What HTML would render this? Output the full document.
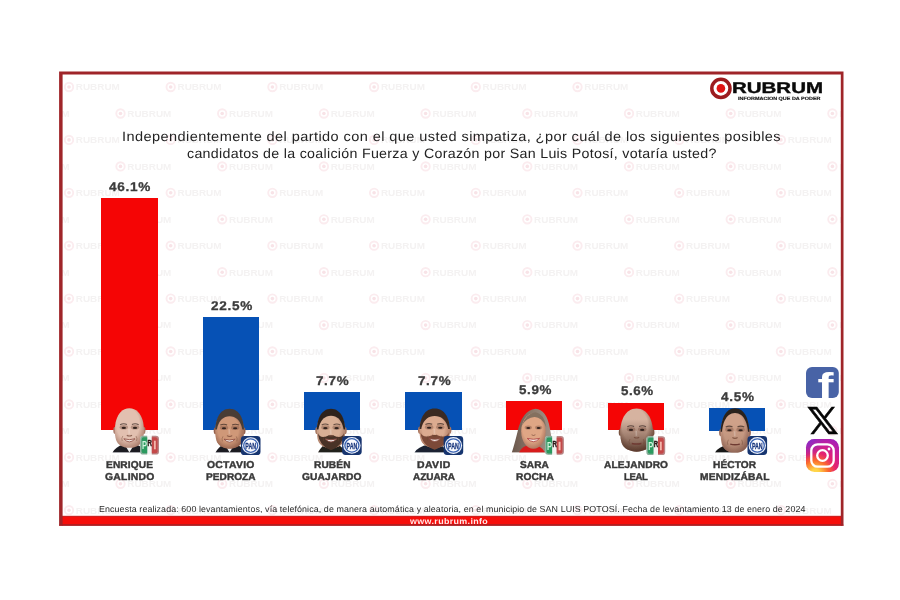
<!DOCTYPE html>
<html lang="es">
<head>
<meta charset="utf-8">
<title>RUBRUM - Encuesta San Luis Potosí</title>
<style>
*{margin:0;padding:0;box-sizing:border-box}
html,body{width:900px;height:600px;background:#fff;overflow:hidden}
body{position:relative;font-family:"Liberation Sans",sans-serif;color:#262626}
.t{position:absolute;white-space:nowrap;line-height:1;transform-origin:0 0;text-rendering:geometricPrecision}
.title{font-size:13.6px;color:#232323}
.bar{position:absolute}
.red{background:#f50505}
.blue{background:#0651b5}
.pct{font-weight:bold;font-size:12.6px;color:#3c3c3c;-webkit-text-stroke:0.3px #3c3c3c}
.nm{font-weight:bold;font-size:10px;color:#383838;-webkit-text-stroke:0.42px #383838}
.foot{font-size:8.7px;color:#2a2a2a}
.abs{position:absolute}
</style>
</head>
<body>
<svg id="wm" class="abs" style="left:62px;top:75px" width="779" height="441" viewBox="61.5 74 779 441">
<defs>
<filter id="wb" x="-10%" y="-30%" width="120%" height="160%"><feGaussianBlur stdDeviation="0.6"/></filter>
<g id="w" filter="url(#wb)">
<circle cx="0" cy="0" r="4.2" fill="none" stroke="#fbecef" stroke-width="1.9"/>
<circle cx="0" cy="0" r="1.8" fill="#f8e3e7"/>
<text x="6.8" y="3.3" font-family="Liberation Sans, sans-serif" font-weight="bold" font-size="9.5" fill="#f4f2f2" textLength="44" lengthAdjust="spacingAndGlyphs">RUBRUM</text>
</g>
</defs>
<use href="#w" x="-33.2" y="86.0"/>
<use href="#w" x="18.3" y="112.5"/>
<use href="#w" x="68.5" y="86.0"/>
<use href="#w" x="120.0" y="112.5"/>
<use href="#w" x="170.2" y="86.0"/>
<use href="#w" x="221.7" y="112.5"/>
<use href="#w" x="271.9" y="86.0"/>
<use href="#w" x="323.4" y="112.5"/>
<use href="#w" x="373.6" y="86.0"/>
<use href="#w" x="425.1" y="112.5"/>
<use href="#w" x="475.3" y="86.0"/>
<use href="#w" x="526.8" y="112.5"/>
<use href="#w" x="577.0" y="86.0"/>
<use href="#w" x="628.5" y="112.5"/>
<use href="#w" x="678.7" y="86.0"/>
<use href="#w" x="730.2" y="112.5"/>
<use href="#w" x="780.4" y="86.0"/>
<use href="#w" x="831.9" y="112.5"/>
<use href="#w" x="882.1" y="86.0"/>
<use href="#w" x="933.6" y="112.5"/>
<use href="#w" x="-33.2" y="138.9"/>
<use href="#w" x="18.3" y="165.4"/>
<use href="#w" x="68.5" y="138.9"/>
<use href="#w" x="120.0" y="165.4"/>
<use href="#w" x="170.2" y="138.9"/>
<use href="#w" x="221.7" y="165.4"/>
<use href="#w" x="271.9" y="138.9"/>
<use href="#w" x="323.4" y="165.4"/>
<use href="#w" x="373.6" y="138.9"/>
<use href="#w" x="425.1" y="165.4"/>
<use href="#w" x="475.3" y="138.9"/>
<use href="#w" x="526.8" y="165.4"/>
<use href="#w" x="577.0" y="138.9"/>
<use href="#w" x="628.5" y="165.4"/>
<use href="#w" x="678.7" y="138.9"/>
<use href="#w" x="730.2" y="165.4"/>
<use href="#w" x="780.4" y="138.9"/>
<use href="#w" x="831.9" y="165.4"/>
<use href="#w" x="882.1" y="138.9"/>
<use href="#w" x="933.6" y="165.4"/>
<use href="#w" x="-33.2" y="191.8"/>
<use href="#w" x="18.3" y="218.3"/>
<use href="#w" x="68.5" y="191.8"/>
<use href="#w" x="120.0" y="218.3"/>
<use href="#w" x="170.2" y="191.8"/>
<use href="#w" x="221.7" y="218.3"/>
<use href="#w" x="271.9" y="191.8"/>
<use href="#w" x="323.4" y="218.3"/>
<use href="#w" x="373.6" y="191.8"/>
<use href="#w" x="425.1" y="218.3"/>
<use href="#w" x="475.3" y="191.8"/>
<use href="#w" x="526.8" y="218.3"/>
<use href="#w" x="577.0" y="191.8"/>
<use href="#w" x="628.5" y="218.3"/>
<use href="#w" x="678.7" y="191.8"/>
<use href="#w" x="730.2" y="218.3"/>
<use href="#w" x="780.4" y="191.8"/>
<use href="#w" x="831.9" y="218.3"/>
<use href="#w" x="882.1" y="191.8"/>
<use href="#w" x="933.6" y="218.3"/>
<use href="#w" x="-33.2" y="244.7"/>
<use href="#w" x="18.3" y="271.2"/>
<use href="#w" x="68.5" y="244.7"/>
<use href="#w" x="120.0" y="271.2"/>
<use href="#w" x="170.2" y="244.7"/>
<use href="#w" x="221.7" y="271.2"/>
<use href="#w" x="271.9" y="244.7"/>
<use href="#w" x="323.4" y="271.2"/>
<use href="#w" x="373.6" y="244.7"/>
<use href="#w" x="425.1" y="271.2"/>
<use href="#w" x="475.3" y="244.7"/>
<use href="#w" x="526.8" y="271.2"/>
<use href="#w" x="577.0" y="244.7"/>
<use href="#w" x="628.5" y="271.2"/>
<use href="#w" x="678.7" y="244.7"/>
<use href="#w" x="730.2" y="271.2"/>
<use href="#w" x="780.4" y="244.7"/>
<use href="#w" x="831.9" y="271.2"/>
<use href="#w" x="882.1" y="244.7"/>
<use href="#w" x="933.6" y="271.2"/>
<use href="#w" x="-33.2" y="297.6"/>
<use href="#w" x="18.3" y="324.1"/>
<use href="#w" x="68.5" y="297.6"/>
<use href="#w" x="120.0" y="324.1"/>
<use href="#w" x="170.2" y="297.6"/>
<use href="#w" x="221.7" y="324.1"/>
<use href="#w" x="271.9" y="297.6"/>
<use href="#w" x="323.4" y="324.1"/>
<use href="#w" x="373.6" y="297.6"/>
<use href="#w" x="425.1" y="324.1"/>
<use href="#w" x="475.3" y="297.6"/>
<use href="#w" x="526.8" y="324.1"/>
<use href="#w" x="577.0" y="297.6"/>
<use href="#w" x="628.5" y="324.1"/>
<use href="#w" x="678.7" y="297.6"/>
<use href="#w" x="730.2" y="324.1"/>
<use href="#w" x="780.4" y="297.6"/>
<use href="#w" x="831.9" y="324.1"/>
<use href="#w" x="882.1" y="297.6"/>
<use href="#w" x="933.6" y="324.1"/>
<use href="#w" x="-33.2" y="350.5"/>
<use href="#w" x="18.3" y="377.0"/>
<use href="#w" x="68.5" y="350.5"/>
<use href="#w" x="120.0" y="377.0"/>
<use href="#w" x="170.2" y="350.5"/>
<use href="#w" x="221.7" y="377.0"/>
<use href="#w" x="271.9" y="350.5"/>
<use href="#w" x="323.4" y="377.0"/>
<use href="#w" x="373.6" y="350.5"/>
<use href="#w" x="425.1" y="377.0"/>
<use href="#w" x="475.3" y="350.5"/>
<use href="#w" x="526.8" y="377.0"/>
<use href="#w" x="577.0" y="350.5"/>
<use href="#w" x="628.5" y="377.0"/>
<use href="#w" x="678.7" y="350.5"/>
<use href="#w" x="730.2" y="377.0"/>
<use href="#w" x="780.4" y="350.5"/>
<use href="#w" x="831.9" y="377.0"/>
<use href="#w" x="882.1" y="350.5"/>
<use href="#w" x="933.6" y="377.0"/>
<use href="#w" x="-33.2" y="403.4"/>
<use href="#w" x="18.3" y="429.9"/>
<use href="#w" x="68.5" y="403.4"/>
<use href="#w" x="120.0" y="429.9"/>
<use href="#w" x="170.2" y="403.4"/>
<use href="#w" x="221.7" y="429.9"/>
<use href="#w" x="271.9" y="403.4"/>
<use href="#w" x="323.4" y="429.9"/>
<use href="#w" x="373.6" y="403.4"/>
<use href="#w" x="425.1" y="429.9"/>
<use href="#w" x="475.3" y="403.4"/>
<use href="#w" x="526.8" y="429.9"/>
<use href="#w" x="577.0" y="403.4"/>
<use href="#w" x="628.5" y="429.9"/>
<use href="#w" x="678.7" y="403.4"/>
<use href="#w" x="730.2" y="429.9"/>
<use href="#w" x="780.4" y="403.4"/>
<use href="#w" x="831.9" y="429.9"/>
<use href="#w" x="882.1" y="403.4"/>
<use href="#w" x="933.6" y="429.9"/>
<use href="#w" x="-33.2" y="456.3"/>
<use href="#w" x="18.3" y="482.8"/>
<use href="#w" x="68.5" y="456.3"/>
<use href="#w" x="120.0" y="482.8"/>
<use href="#w" x="170.2" y="456.3"/>
<use href="#w" x="221.7" y="482.8"/>
<use href="#w" x="271.9" y="456.3"/>
<use href="#w" x="323.4" y="482.8"/>
<use href="#w" x="373.6" y="456.3"/>
<use href="#w" x="425.1" y="482.8"/>
<use href="#w" x="475.3" y="456.3"/>
<use href="#w" x="526.8" y="482.8"/>
<use href="#w" x="577.0" y="456.3"/>
<use href="#w" x="628.5" y="482.8"/>
<use href="#w" x="678.7" y="456.3"/>
<use href="#w" x="730.2" y="482.8"/>
<use href="#w" x="780.4" y="456.3"/>
<use href="#w" x="831.9" y="482.8"/>
<use href="#w" x="882.1" y="456.3"/>
<use href="#w" x="933.6" y="482.8"/>
<use href="#w" x="-33.2" y="509.2"/>
<use href="#w" x="18.3" y="535.7"/>
<use href="#w" x="68.5" y="509.2"/>
<use href="#w" x="120.0" y="535.7"/>
<use href="#w" x="170.2" y="509.2"/>
<use href="#w" x="221.7" y="535.7"/>
<use href="#w" x="271.9" y="509.2"/>
<use href="#w" x="323.4" y="535.7"/>
<use href="#w" x="373.6" y="509.2"/>
<use href="#w" x="425.1" y="535.7"/>
<use href="#w" x="475.3" y="509.2"/>
<use href="#w" x="526.8" y="535.7"/>
<use href="#w" x="577.0" y="509.2"/>
<use href="#w" x="628.5" y="535.7"/>
<use href="#w" x="678.7" y="509.2"/>
<use href="#w" x="730.2" y="535.7"/>
<use href="#w" x="780.4" y="509.2"/>
<use href="#w" x="831.9" y="535.7"/>
<use href="#w" x="882.1" y="509.2"/>
<use href="#w" x="933.6" y="535.7"/>
<use href="#w" x="-33.2" y="562.1"/>
<use href="#w" x="18.3" y="588.6"/>
<use href="#w" x="68.5" y="562.1"/>
<use href="#w" x="120.0" y="588.6"/>
<use href="#w" x="170.2" y="562.1"/>
<use href="#w" x="221.7" y="588.6"/>
<use href="#w" x="271.9" y="562.1"/>
<use href="#w" x="323.4" y="588.6"/>
<use href="#w" x="373.6" y="562.1"/>
<use href="#w" x="425.1" y="588.6"/>
<use href="#w" x="475.3" y="562.1"/>
<use href="#w" x="526.8" y="588.6"/>
<use href="#w" x="577.0" y="562.1"/>
<use href="#w" x="628.5" y="588.6"/>
<use href="#w" x="678.7" y="562.1"/>
<use href="#w" x="730.2" y="588.6"/>
<use href="#w" x="780.4" y="562.1"/>
<use href="#w" x="831.9" y="588.6"/>
<use href="#w" x="882.1" y="562.1"/>
<use href="#w" x="933.6" y="588.6"/>
</svg>
<svg id="frame" class="abs" style="left:0;top:0" width="900" height="600" viewBox="0 0 900 600">
<rect x="62" y="515.9" width="780" height="9" fill="#f60e0a"/>
<rect x="62" y="515.9" width="780" height="1.1" fill="#cf1f1f"/>
<rect x="62" y="524.2" width="780" height="1.5" fill="#b21a1c"/>
<path fill="#9f2529" fill-rule="evenodd" d="M59.1 71.6H843.5V525.7H59.1Z M62.6 74.4H840.8V525.7H62.6Z"/>
<rect x="59.1" y="524.6" width="784.4" height="1.1" fill="#a82024"/>
</svg>

<!-- logo -->
<div class="abs" style="left:660px;top:74.6px;width:178px;height:29.4px;background:#fff"></div>
<svg class="abs" style="left:708px;top:76px" width="26" height="26" viewBox="0 0 26 26">
<circle cx="12.9" cy="12.4" r="9.1" fill="#fff" stroke="#9c1c1f" stroke-width="3.5"/>
<circle cx="12.9" cy="12.4" r="4.3" fill="#e01414"/>
</svg>

<!-- bars -->
<div class="bar red"  style="left:101px;top:198px;width:57px;height:232px"></div>
<div class="bar blue" style="left:203px;top:317px;width:56px;height:113px"></div>
<div class="bar blue" style="left:304px;top:392px;width:56px;height:38px"></div>
<div class="bar blue" style="left:405px;top:392px;width:56.5px;height:38px"></div>
<div class="bar red"  style="left:506px;top:401px;width:56px;height:29px"></div>
<div class="bar red"  style="left:607.5px;top:403px;width:56.5px;height:27px"></div>
<div class="bar blue" style="left:709px;top:408px;width:56px;height:22.5px"></div>

<svg class="abs" style="left:0;top:0" width="900" height="600" viewBox="0 0 900 600">
<defs><radialGradient id="s1" cx="0.45" cy="0.4" r="0.65"><stop offset="0" stop-color="#e2c0b0"/><stop offset="0.6" stop-color="#e2c0b0"/><stop offset="1" stop-color="#a97b6a"/></radialGradient>
<radialGradient id="s2" cx="0.45" cy="0.4" r="0.65"><stop offset="0" stop-color="#cf9878"/><stop offset="0.6" stop-color="#cf9878"/><stop offset="1" stop-color="#94614c"/></radialGradient>
<clipPath id="hc2"><rect x="199.6" y="406.8" width="60" height="22.75"/></clipPath>
<radialGradient id="s3" cx="0.45" cy="0.4" r="0.65"><stop offset="0" stop-color="#d9af95"/><stop offset="0.6" stop-color="#d9af95"/><stop offset="1" stop-color="#a57660"/></radialGradient>
<clipPath id="hc3"><rect x="301" y="406.8" width="60" height="22.60"/></clipPath>
<radialGradient id="s4" cx="0.45" cy="0.4" r="0.65"><stop offset="0" stop-color="#dcab90"/><stop offset="0.6" stop-color="#dcab90"/><stop offset="1" stop-color="#a8735c"/></radialGradient>
<clipPath id="hc4"><rect x="404.7" y="406.5" width="60" height="22.50"/></clipPath>
<radialGradient id="s6" cx="0.45" cy="0.4" r="0.65"><stop offset="0" stop-color="#d6b3a0"/><stop offset="0.6" stop-color="#d6b3a0"/><stop offset="1" stop-color="#7a5443"/></radialGradient>
<radialGradient id="s7" cx="0.45" cy="0.4" r="0.65"><stop offset="0" stop-color="#cfa189"/><stop offset="0.6" stop-color="#cfa189"/><stop offset="1" stop-color="#96695a"/></radialGradient>
<clipPath id="hc7"><rect x="705" y="406.3" width="60" height="25.35"/></clipPath>
<radialGradient id="s5" cx="0.45" cy="0.4" r="0.65"><stop offset="0" stop-color="#dfa685"/><stop offset="0.6" stop-color="#dfa685"/><stop offset="1" stop-color="#a8705a"/></radialGradient>
<linearGradient id="h5" x1="0" y1="0" x2="1" y2="0"><stop offset="0" stop-color="#6a574c"/><stop offset="0.45" stop-color="#8b7768"/><stop offset="1" stop-color="#a3958b"/></linearGradient>
<clipPath id="fc"><rect x="0" y="400" width="900" height="52.7"/></clipPath><linearGradient id="lowg" x1="0" y1="0" x2="0" y2="1"><stop offset="0.25" stop-color="#4a2c20" stop-opacity="0"/><stop offset="1" stop-color="#4a2c20" stop-opacity="1"/></linearGradient>
<filter id="bl" x="-10%" y="-10%" width="120%" height="120%"><feGaussianBlur stdDeviation="0.55"/></filter>
<filter id="bl2" x="-10%" y="-10%" width="120%" height="120%"><feGaussianBlur stdDeviation="0.3"/></filter>
<radialGradient id="igg" cx="0.28" cy="1.05" r="1.15"><stop offset="0" stop-color="#ffdc55"/><stop offset="0.12" stop-color="#ffd145"/><stop offset="0.35" stop-color="#fb6a2e"/><stop offset="0.55" stop-color="#e5236e"/><stop offset="0.8" stop-color="#c71f9a"/><stop offset="1" stop-color="#a61fb8"/></radialGradient>
<radialGradient id="igp" cx="0.0" cy="0.0" r="0.6"><stop offset="0" stop-color="#7a2fd0" stop-opacity="0.9"/><stop offset="1" stop-color="#7a2fd0" stop-opacity="0"/></radialGradient></defs>
<g filter="url(#bl)" clip-path="url(#fc)"><path d="M112.5 452.6 Q115.5 446.8 123.4 444.5 L135.4 444.5 Q143.5 446.8 146.5 452.6 Z" fill="#1d1d21"/><path d="M124.9 445 L129.4 452.6 L133.9 445 Z" fill="#f4f4f4"/><ellipse cx="114.90" cy="430.40" rx="1.6" ry="3.4" fill="#a97b6a"/><ellipse cx="143.90" cy="430.40" rx="1.6" ry="3.4" fill="#a97b6a"/><path d="M129.4 408.3 C143.46 408.3 145.98 429.15 142.72 439.99 C139.46 450.50 119.34 450.50 116.08 439.99 C112.82 429.15 115.34 408.3 129.4 408.3 Z" fill="url(#s1)"/><ellipse cx="123.80000000000001" cy="427.30" rx="4.2" ry="2.3" fill="#6b4030" opacity="0.35"/><ellipse cx="135.0" cy="427.30" rx="4.2" ry="2.3" fill="#6b4030" opacity="0.35"/><ellipse cx="123.80000000000001" cy="427.90" rx="2.2" ry="1.05" fill="#33231f"/><ellipse cx="135.0" cy="427.90" rx="2.2" ry="1.05" fill="#33231f"/><path d="M120.10000000000001 424.70 q3.4 -1.7 6.8 -0.2 M131.9 424.50 q3.4 -1.5 6.8 0.2" stroke="#33231f" stroke-width="1.1" fill="none" opacity="0.7"/><path d="M129.0 428.90 L129.20000000000002 433.90" stroke="#fff" stroke-width="1.6" opacity="0.22"/><path d="M126.80000000000001 435.20 q2.6 1.7 5.2 0" stroke="#6b4030" stroke-width="1.1" fill="none" opacity="0.7"/><path d="M122.80000000000001 435.98 q-1.6 2.4 -0.6 5 M136.0 435.98 q1.6 2.4 0.6 5" stroke="#6b4030" stroke-width="0.9" fill="none" opacity="0.45"/><path d="M123.80000000000001 438.78 Q129.4 440.58 135.0 438.78 Q129.4 444.98 123.80000000000001 438.78 Z" fill="#f1e9e5" stroke="#8c4a40" stroke-width="0.8"/></g>
<g filter="url(#bl)" clip-path="url(#fc)"><path d="M215.5 452.6 Q218.5 446.8 223.6 444.5 L235.6 444.5 Q243 446.8 246 452.6 Z" fill="#1b1c22"/><path d="M225.1 445 L229.6 452.6 L234.1 445 Z" fill="#f1f1f1"/><ellipse cx="215.29" cy="430.81" rx="1.6" ry="3.4" fill="#94614c"/><ellipse cx="243.91" cy="430.81" rx="1.6" ry="3.4" fill="#94614c"/><path d="M229.6 410.3 C243.47 410.3 245.95 430.30 242.74 440.70 C239.53 450.80 219.67 450.80 216.46 440.70 C213.25 430.30 215.73 410.3 229.6 410.3 Z" fill="url(#s2)"/><path d="M229.6 408.8 C243.47 408.8 245.95 429.55 242.74 440.34 C239.53 450.80 219.67 450.80 216.46 440.34 C213.25 429.55 215.73 408.8 229.6 408.8 Z" fill="#4a3c36" clip-path="url(#hc2)"/><path d="M229.6 416.3 C242.23 416.3 244.50 433.30 241.57 442.14 C238.64 450.80 220.56 450.80 217.63 442.14 C214.70 433.30 216.97 416.3 229.6 416.3 Z" fill="url(#s2)"/><ellipse cx="224.0" cy="427.70" rx="4.2" ry="2.3" fill="#6b4030" opacity="0.35"/><ellipse cx="235.2" cy="427.70" rx="4.2" ry="2.3" fill="#6b4030" opacity="0.35"/><ellipse cx="224.0" cy="428.31" rx="2.2" ry="1.05" fill="#33231f"/><ellipse cx="235.2" cy="428.31" rx="2.2" ry="1.05" fill="#33231f"/><path d="M220.29999999999998 425.11 q3.4 -1.7 6.8 -0.2 M232.1 424.91 q3.4 -1.5 6.8 0.2" stroke="#33231f" stroke-width="1.1" fill="none" opacity="0.7"/><path d="M229.2 429.31 L229.4 434.31" stroke="#fff" stroke-width="1.6" opacity="0.22"/><path d="M227.0 435.61 q2.6 1.7 5.2 0" stroke="#6b4030" stroke-width="1.1" fill="none" opacity="0.7"/><path d="M223.0 436.33 q-1.6 2.4 -0.6 5 M236.2 436.33 q1.6 2.4 0.6 5" stroke="#6b4030" stroke-width="0.9" fill="none" opacity="0.45"/><path d="M224.0 439.13 Q229.6 440.93 235.2 439.13 Q229.6 445.33 224.0 439.13 Z" fill="#f1e9e5" stroke="#8c4a40" stroke-width="0.8"/></g>
<g filter="url(#bl)" clip-path="url(#fc)"><path d="M318 452.6 Q321 446.8 325 444.5 L337 444.5 Q343 446.8 346 452.6 Z" fill="#23211f"/><ellipse cx="316.89" cy="430.66" rx="1.6" ry="3.4" fill="#a57660"/><ellipse cx="345.11" cy="430.66" rx="1.6" ry="3.4" fill="#a57660"/><path d="M331 410.3 C344.68 410.3 347.13 430.15 343.96 440.47 C340.79 450.50 321.21 450.50 318.04 440.47 C314.87 430.15 317.32 410.3 331 410.3 Z" fill="url(#s3)"/><path d="M331 408.8 C344.68 408.8 347.13 429.40 343.96 440.11 C340.79 450.50 321.21 450.50 318.04 440.11 C314.87 429.40 317.32 408.8 331 408.8 Z" fill="#2e221d" clip-path="url(#hc3)"/><path d="M331 415.8 C343.44 415.8 345.67 432.90 342.79 441.79 C339.91 450.50 322.09 450.50 319.21 441.79 C316.33 432.90 318.56 415.8 331 415.8 Z" fill="url(#s3)"/><path d="M317.8 432.992 Q319.1 446 331 450.3 Q342.9 446 344.2 432.992 Q341.9 438.492 336 436.492 Q331 434.192 326 436.492 Q320.1 438.492 317.8 432.992 Z" fill="#4a3328"/><ellipse cx="325.4" cy="427.56" rx="4.2" ry="2.3" fill="#6b4030" opacity="0.35"/><ellipse cx="336.6" cy="427.56" rx="4.2" ry="2.3" fill="#6b4030" opacity="0.35"/><ellipse cx="325.4" cy="428.16" rx="2.2" ry="1.05" fill="#33231f"/><ellipse cx="336.6" cy="428.16" rx="2.2" ry="1.05" fill="#33231f"/><path d="M321.7 424.96 q3.4 -1.7 6.8 -0.2 M333.5 424.76 q3.4 -1.5 6.8 0.2" stroke="#33231f" stroke-width="1.1" fill="none" opacity="0.7"/><path d="M330.6 429.16 L330.8 434.16" stroke="#fff" stroke-width="1.6" opacity="0.22"/><path d="M328.4 435.46 q2.6 1.7 5.2 0" stroke="#6b4030" stroke-width="1.1" fill="none" opacity="0.7"/><path d="M324.4 436.11 q-1.6 2.4 -0.6 5 M337.6 436.11 q1.6 2.4 0.6 5" stroke="#6b4030" stroke-width="0.9" fill="none" opacity="0.45"/><path d="M325.4 438.91 Q331 440.71 336.6 438.91 Q331 445.11 325.4 438.91 Z" fill="#f1e9e5" stroke="#8c4a40" stroke-width="0.8"/></g>
<g filter="url(#bl)" clip-path="url(#fc)"><path d="M414.5 452.6 Q417.5 446.8 428.7 444.5 L440.7 444.5 Q444 446.8 447 452.6 Z" fill="#1b2430"/><ellipse cx="419.61" cy="430.27" rx="1.6" ry="3.4" fill="#a8735c"/><ellipse cx="449.79" cy="430.27" rx="1.6" ry="3.4" fill="#a8735c"/><path d="M434.7 410.0 C449.33 410.0 451.95 429.75 448.56 440.02 C445.17 450.00 424.23 450.00 420.84 440.02 C417.45 429.75 420.07 410.0 434.7 410.0 Z" fill="url(#s4)"/><path d="M434.7 408.5 C449.33 408.5 451.95 429.00 448.56 439.66 C445.17 450.00 424.23 450.00 420.84 439.66 C417.45 429.00 420.07 408.5 434.7 408.5 Z" fill="#3a2921" clip-path="url(#hc4)"/><path d="M434.7 416.0 C448.09 416.0 450.49 432.75 447.39 441.46 C444.29 450.00 425.11 450.00 422.01 441.46 C418.91 432.75 421.31 416.0 434.7 416.0 Z" fill="url(#s4)"/><path d="M420.5 432.56 Q421.8 445.5 434.7 449.8 Q447.59999999999997 445.5 448.9 432.56 Q446.59999999999997 438.06 439.7 436.06 Q434.7 433.76 429.7 436.06 Q422.8 438.06 420.5 432.56 Z" fill="#7b4a38"/><ellipse cx="429.09999999999997" cy="427.17" rx="4.2" ry="2.3" fill="#6b4030" opacity="0.35"/><ellipse cx="440.3" cy="427.17" rx="4.2" ry="2.3" fill="#6b4030" opacity="0.35"/><ellipse cx="429.09999999999997" cy="427.77" rx="2.2" ry="1.05" fill="#33231f"/><ellipse cx="440.3" cy="427.77" rx="2.2" ry="1.05" fill="#33231f"/><path d="M425.4 424.57 q3.4 -1.7 6.8 -0.2 M437.2 424.37 q3.4 -1.5 6.8 0.2" stroke="#33231f" stroke-width="1.1" fill="none" opacity="0.7"/><path d="M434.3 428.77 L434.5 433.77" stroke="#fff" stroke-width="1.6" opacity="0.22"/><path d="M432.09999999999997 435.07 q2.6 1.7 5.2 0" stroke="#6b4030" stroke-width="1.1" fill="none" opacity="0.7"/><path d="M428.09999999999997 435.65 q-1.6 2.4 -0.6 5 M441.3 435.65 q1.6 2.4 0.6 5" stroke="#6b4030" stroke-width="0.9" fill="none" opacity="0.45"/><path d="M429.09999999999997 438.45 Q434.7 440.25 440.3 438.45 Q434.7 444.65 429.09999999999997 438.45 Z" fill="#f1e9e5" stroke="#8c4a40" stroke-width="0.8"/></g>
<g filter="url(#bl)" clip-path="url(#fc)"><path d="M535.5 408.8 Q522 410.5 517.5 432 Q514 446 511.8 452.6 L553.2 452.6 Q552.5 440 549.8 428 Q546.5 409.5 535.5 408.8 Z" fill="url(#h5)"/><path d="M519 452.6 Q522 445 531 445 Q542 445 545 452.6 Z" fill="#d81f1f"/><ellipse cx="533.4" cy="431.2" rx="12.2" ry="17.6" fill="url(#s5)"/><path d="M521.5 426 Q526 413 535.5 412.2 Q544 413.5 546.2 427 Q541.5 416.8 534.5 417 Q526.5 417.4 521.5 426 Z" fill="#84705f"/><ellipse cx="528.3" cy="427.6" rx="3.6" ry="2" fill="#6b4030" opacity="0.35"/><ellipse cx="538.6" cy="427.6" rx="3.6" ry="2" fill="#6b4030" opacity="0.35"/><ellipse cx="528.3" cy="428" rx="2" ry="1" fill="#33231f"/><ellipse cx="538.6" cy="428" rx="2" ry="1" fill="#33231f"/><path d="M531.6 434.8 q1.9 1.4 3.8 0" stroke="#6b4030" stroke-width="1" fill="none" opacity="0.6"/><path d="M527.2 438.4 Q533.4 440.2 539.6 438.4 Q533.4 445 527.2 438.4 Z" fill="#f8f2ef" stroke="#b04a48" stroke-width="0.9"/></g>
<g filter="url(#bl)" clip-path="url(#fc)"><ellipse cx="620.33" cy="432.38" rx="1.6" ry="3.4" fill="#7a5443"/><ellipse cx="652.87" cy="432.38" rx="1.6" ry="3.4" fill="#7a5443"/><path d="M636.6 408.5 C652.37 408.5 655.19 431.25 651.54 443.08 C647.89 454.50 625.31 454.50 621.66 443.08 C618.01 431.25 620.83 408.5 636.6 408.5 Z" fill="url(#s6)"/><path d="M636.6 408.5 C652.37 408.5 655.19 431.25 651.54 443.08 C647.89 454.50 625.31 454.50 621.66 443.08 C618.01 431.25 620.83 408.5 636.6 408.5 Z" fill="url(#lowg)" opacity="0.75"/><ellipse cx="631.0" cy="429.28" rx="4.2" ry="2.3" fill="#6b4030" opacity="0.35"/><ellipse cx="642.2" cy="429.28" rx="4.2" ry="2.3" fill="#6b4030" opacity="0.35"/><ellipse cx="631.0" cy="429.88" rx="2.2" ry="1.05" fill="#33231f"/><ellipse cx="642.2" cy="429.88" rx="2.2" ry="1.05" fill="#33231f"/><path d="M627.3000000000001 426.69 q3.4 -1.7 6.8 -0.2 M639.1 426.49 q3.4 -1.5 6.8 0.2" stroke="#33231f" stroke-width="1.1" fill="none" opacity="0.7"/><path d="M636.2 430.88 L636.4 435.88" stroke="#fff" stroke-width="1.6" opacity="0.22"/><path d="M634.0 437.19 q2.6 1.7 5.2 0" stroke="#6b4030" stroke-width="1.1" fill="none" opacity="0.7"/><path d="M630.0 439.05 q-1.6 2.4 -0.6 5 M643.2 439.05 q1.6 2.4 0.6 5" stroke="#6b4030" stroke-width="0.9" fill="none" opacity="0.45"/><path d="M631.8000000000001 443.45 Q636.6 444.65 641.4 443.45" stroke="#6e3a32" stroke-width="1.4" fill="none"/></g>
<g filter="url(#bl)" clip-path="url(#fc)"><path d="M715 452.6 Q718 446.8 729 444.5 L741 444.5 Q735 446.8 738 452.6 Z" fill="#161616"/><ellipse cx="720.69" cy="432.75" rx="1.6" ry="3.4" fill="#96695a"/><ellipse cx="749.31" cy="432.75" rx="1.6" ry="3.4" fill="#96695a"/><path d="M735 409.8 C748.87 409.8 751.35 432.40 748.14 444.15 C744.93 455.50 725.07 455.50 721.86 444.15 C718.65 432.40 721.13 409.8 735 409.8 Z" fill="url(#s7)"/><path d="M735 408.3 C748.87 408.3 751.35 431.65 748.14 443.79 C744.93 455.50 725.07 455.50 721.86 443.79 C718.65 431.65 721.13 408.3 735 408.3 Z" fill="#2a211e" clip-path="url(#hc7)"/><path d="M735 413.1 C747.63 413.1 749.90 434.05 746.97 444.94 C744.04 455.50 725.96 455.50 723.03 444.94 C720.10 434.05 722.37 413.1 735 413.1 Z" fill="url(#s7)"/><path d="M735 413.1 C748.01 413.1 750.34 434.05 747.33 444.94 C744.32 455.50 725.68 455.50 722.67 444.94 C719.66 434.05 721.99 413.1 735 413.1 Z" fill="url(#lowg)" opacity="0.2"/><ellipse cx="729.4" cy="429.65" rx="4.2" ry="2.3" fill="#6b4030" opacity="0.35"/><ellipse cx="740.6" cy="429.65" rx="4.2" ry="2.3" fill="#6b4030" opacity="0.35"/><ellipse cx="729.4" cy="430.25" rx="2.2" ry="1.05" fill="#33231f"/><ellipse cx="740.6" cy="430.25" rx="2.2" ry="1.05" fill="#33231f"/><path d="M725.7 427.05 q3.4 -1.7 6.8 -0.2 M737.5 426.85 q3.4 -1.5 6.8 0.2" stroke="#33231f" stroke-width="1.1" fill="none" opacity="0.7"/><path d="M734.6 431.25 L734.8 436.25" stroke="#fff" stroke-width="1.6" opacity="0.22"/><path d="M732.4 437.55 q2.6 1.7 5.2 0" stroke="#6b4030" stroke-width="1.1" fill="none" opacity="0.7"/><path d="M728.4 439.76 q-1.6 2.4 -0.6 5 M741.6 439.76 q1.6 2.4 0.6 5" stroke="#6b4030" stroke-width="0.9" fill="none" opacity="0.45"/><path d="M730.2 444.16 Q735 445.36 739.8 444.16" stroke="#6e3a32" stroke-width="1.4" fill="none"/></g>
<g transform="translate(140.2 435.8)" filter="url(#bl2)"><rect x="0" y="0" width="18.8" height="18.8" rx="3.2" fill="#f3f4f2"/><path d="M3.2 0 H7 V18.8 H3.2 A3.2 3.2 0 0 1 0 15.600000000000001 V3.2 A3.2 3.2 0 0 1 3.2 0 Z" fill="#85ad98"/><path d="M3.4 1.4 H7 V17.400000000000002 H3.4 A2 2 0 0 1 1.4 15.4 V3.4 A2 2 0 0 1 3.4 1.4 Z" fill="#2c9a5e"/><path d="M11.6 0 H15.600000000000001 A3.2 3.2 0 0 1 18.8 3.2 V15.600000000000001 A3.2 3.2 0 0 1 15.600000000000001 18.8 H11.6 Z" fill="#b98686"/><path d="M11.6 1.4 H15.4 A2 2 0 0 1 17.400000000000002 3.4 V15.4 A2 2 0 0 1 15.4 17.400000000000002 H11.6 Z" fill="#c4484a"/><text font-family="Liberation Sans, sans-serif" font-weight="bold"><tspan x="1.9" y="13.6" font-size="10.5" fill="#d3f3df" textLength="5" lengthAdjust="spacingAndGlyphs">P</tspan><tspan x="7.3" y="10.7" font-size="9.2" fill="#2a1816" stroke="#2a1816" stroke-width="0.4" textLength="4.4" lengthAdjust="spacingAndGlyphs">R</tspan><tspan x="13.2" y="13.6" font-size="10.5" fill="#f6bfb2" stroke="#f6bfb2" stroke-width="0.4" textLength="2.6" lengthAdjust="spacingAndGlyphs">I</tspan></text></g>
<g transform="translate(240.9 436.1)" filter="url(#bl2)"><rect x="0" y="0" width="19.6" height="19" rx="3.4" fill="#19346f"/><ellipse cx="9.8" cy="9.5" rx="8.7" ry="8.4" fill="#eef3fb"/><ellipse cx="9.8" cy="9.5" rx="7" ry="6.7" fill="#fbfcff" stroke="#3a63b2" stroke-width="1.3"/><text x="9.8" y="13.0" text-anchor="middle" font-family="Liberation Sans, sans-serif" font-weight="bold" font-size="9.6" fill="#18357c" stroke="#18357c" stroke-width="0.3" textLength="10.8" lengthAdjust="spacingAndGlyphs">PAN</text></g>
<g transform="translate(342.1 435.9)" filter="url(#bl2)"><rect x="0" y="0" width="19.6" height="19" rx="3.4" fill="#19346f"/><ellipse cx="9.8" cy="9.5" rx="8.7" ry="8.4" fill="#eef3fb"/><ellipse cx="9.8" cy="9.5" rx="7" ry="6.7" fill="#fbfcff" stroke="#3a63b2" stroke-width="1.3"/><text x="9.8" y="13.0" text-anchor="middle" font-family="Liberation Sans, sans-serif" font-weight="bold" font-size="9.6" fill="#18357c" stroke="#18357c" stroke-width="0.3" textLength="10.8" lengthAdjust="spacingAndGlyphs">PAN</text></g>
<g transform="translate(443.6 436)" filter="url(#bl2)"><rect x="0" y="0" width="19.6" height="19" rx="3.4" fill="#19346f"/><ellipse cx="9.8" cy="9.5" rx="8.7" ry="8.4" fill="#eef3fb"/><ellipse cx="9.8" cy="9.5" rx="7" ry="6.7" fill="#fbfcff" stroke="#3a63b2" stroke-width="1.3"/><text x="9.8" y="13.0" text-anchor="middle" font-family="Liberation Sans, sans-serif" font-weight="bold" font-size="9.6" fill="#18357c" stroke="#18357c" stroke-width="0.3" textLength="10.8" lengthAdjust="spacingAndGlyphs">PAN</text></g>
<g transform="translate(545.1 436.0)" filter="url(#bl2)"><rect x="0" y="0" width="18.8" height="18.8" rx="3.2" fill="#f3f4f2"/><path d="M3.2 0 H7 V18.8 H3.2 A3.2 3.2 0 0 1 0 15.600000000000001 V3.2 A3.2 3.2 0 0 1 3.2 0 Z" fill="#85ad98"/><path d="M3.4 1.4 H7 V17.400000000000002 H3.4 A2 2 0 0 1 1.4 15.4 V3.4 A2 2 0 0 1 3.4 1.4 Z" fill="#2c9a5e"/><path d="M11.6 0 H15.600000000000001 A3.2 3.2 0 0 1 18.8 3.2 V15.600000000000001 A3.2 3.2 0 0 1 15.600000000000001 18.8 H11.6 Z" fill="#b98686"/><path d="M11.6 1.4 H15.4 A2 2 0 0 1 17.400000000000002 3.4 V15.4 A2 2 0 0 1 15.4 17.400000000000002 H11.6 Z" fill="#c4484a"/><text font-family="Liberation Sans, sans-serif" font-weight="bold"><tspan x="1.9" y="13.6" font-size="10.5" fill="#d3f3df" textLength="5" lengthAdjust="spacingAndGlyphs">P</tspan><tspan x="7.3" y="10.7" font-size="9.2" fill="#2a1816" stroke="#2a1816" stroke-width="0.4" textLength="4.4" lengthAdjust="spacingAndGlyphs">R</tspan><tspan x="13.2" y="13.6" font-size="10.5" fill="#f6bfb2" stroke="#f6bfb2" stroke-width="0.4" textLength="2.6" lengthAdjust="spacingAndGlyphs">I</tspan></text></g>
<g transform="translate(646.4 436.3)" filter="url(#bl2)"><rect x="0" y="0" width="18.8" height="18.8" rx="3.2" fill="#f3f4f2"/><path d="M3.2 0 H7 V18.8 H3.2 A3.2 3.2 0 0 1 0 15.600000000000001 V3.2 A3.2 3.2 0 0 1 3.2 0 Z" fill="#85ad98"/><path d="M3.4 1.4 H7 V17.400000000000002 H3.4 A2 2 0 0 1 1.4 15.4 V3.4 A2 2 0 0 1 3.4 1.4 Z" fill="#2c9a5e"/><path d="M11.6 0 H15.600000000000001 A3.2 3.2 0 0 1 18.8 3.2 V15.600000000000001 A3.2 3.2 0 0 1 15.600000000000001 18.8 H11.6 Z" fill="#b98686"/><path d="M11.6 1.4 H15.4 A2 2 0 0 1 17.400000000000002 3.4 V15.4 A2 2 0 0 1 15.4 17.400000000000002 H11.6 Z" fill="#c4484a"/><text font-family="Liberation Sans, sans-serif" font-weight="bold"><tspan x="1.9" y="13.6" font-size="10.5" fill="#d3f3df" textLength="5" lengthAdjust="spacingAndGlyphs">P</tspan><tspan x="7.3" y="10.7" font-size="9.2" fill="#2a1816" stroke="#2a1816" stroke-width="0.4" textLength="4.4" lengthAdjust="spacingAndGlyphs">R</tspan><tspan x="13.2" y="13.6" font-size="10.5" fill="#f6bfb2" stroke="#f6bfb2" stroke-width="0.4" textLength="2.6" lengthAdjust="spacingAndGlyphs">I</tspan></text></g>
<g transform="translate(747.5 436)" filter="url(#bl2)"><rect x="0" y="0" width="19.6" height="19" rx="3.4" fill="#19346f"/><ellipse cx="9.8" cy="9.5" rx="8.7" ry="8.4" fill="#eef3fb"/><ellipse cx="9.8" cy="9.5" rx="7" ry="6.7" fill="#fbfcff" stroke="#3a63b2" stroke-width="1.3"/><text x="9.8" y="13.0" text-anchor="middle" font-family="Liberation Sans, sans-serif" font-weight="bold" font-size="9.6" fill="#18357c" stroke="#18357c" stroke-width="0.3" textLength="10.8" lengthAdjust="spacingAndGlyphs">PAN</text></g>
<g id="fb"><rect x="806" y="367" width="32.8" height="31" rx="6" fill="#4863a6"/>
<text x="817.5" y="398" font-family="Liberation Sans, sans-serif" font-weight="bold" font-size="35" fill="#fff" textLength="16" lengthAdjust="spacingAndGlyphs">f</text></g>
<text id="tw" x="806.7" y="433.5" font-family="DejaVu Sans, sans-serif" font-weight="bold" font-size="37.8" fill="#050505" stroke="#050505" stroke-width="0.5" textLength="31.9" lengthAdjust="spacingAndGlyphs">𝕏</text>
<g id="ig"><rect x="806" y="439" width="33" height="33" rx="8.5" fill="url(#igg)"/><rect x="806" y="439" width="33" height="33" rx="8.5" fill="url(#igp)"/>
<rect x="811.3" y="444.3" width="22.4" height="22.4" rx="6.3" fill="none" stroke="#fff" stroke-width="2.3"/>
<circle cx="822.5" cy="455.5" r="5.3" fill="none" stroke="#fff" stroke-width="2.3"/>
<circle cx="829" cy="449" r="1.4" fill="#fff"/></g>
</svg>

<!-- text -->
<div class="t" id="logo" style="left:732.4px;top:81.1px;font-weight:bold;font-size:15.5px;color:#0a0a0a;-webkit-text-stroke:0.4px #0a0a0a;transform:scale(1.3209,1)">RUBRUM</div>
<div class="t" id="tag" style="left:738px;top:96.5px;font-weight:bold;font-size:4.7px;color:#111;-webkit-text-stroke:0.15px #111;transform:scale(1.1633,1)">INFORMACION QUE DA PODER</div>
<div class="t title" id="t1" style="left:122.4px;top:129.5px;;letter-spacing:0.397px;transform:scale(1.0689,1)">Independientemente del partido con el que usted simpatiza, ¿por cuál de los siguientes posibles</div>
<div class="t title" id="t2" style="left:187px;top:147.3px;;letter-spacing:0.280px;transform:scale(1.0473,1)">candidatos de la coalición Fuerza y Corazón por San Luis Potosí, votaría usted?</div>
<div class="t pct" id="p1" style="left:109.2px;top:181.1px;;letter-spacing:0.647px;transform:scale(1.0781,1)">46.1%</div>
<div class="t pct" id="p2" style="left:210.6px;top:300.0px;;letter-spacing:0.647px;transform:scale(1.0781,1)">22.5%</div>
<div class="t pct" id="p3" style="left:316.3px;top:375.1px;;letter-spacing:0.606px;transform:scale(1.0676,1)">7.7%</div>
<div class="t pct" id="p4" style="left:417.6px;top:375.1px;;letter-spacing:0.606px;transform:scale(1.0676,1)">7.7%</div>
<div class="t pct" id="p5" style="left:519.2px;top:384.1px;;letter-spacing:0.577px;transform:scale(1.0641,1)">5.9%</div>
<div class="t pct" id="p6" style="left:620.6px;top:385.3px;;letter-spacing:0.547px;transform:scale(1.0606,1)">5.6%</div>
<div class="t pct" id="p7" style="left:720.6px;top:390.8px;;letter-spacing:0.664px;transform:scale(1.0745,1)">4.5%</div>
<div class="t nm" id="n1a" style="left:106px;top:460.9px;;letter-spacing:0.118px;transform:scale(1.0158,1)">ENRIQUE</div>
<div class="t nm" id="n1b" style="left:105px;top:473.0px;;letter-spacing:0.265px;transform:scale(1.0357,1)">GALINDO</div>
<div class="t nm" id="n2a" style="left:207px;top:460.9px;;letter-spacing:0.267px;transform:scale(1.0377,1)">OCTAVIO</div>
<div class="t nm" id="n2b" style="left:206.4px;top:473.0px;;letter-spacing:0.057px;transform:scale(1.0071,1)">PEDROZA</div>
<div class="t nm" id="n3a" style="left:313.5px;top:460.9px;;letter-spacing:0.116px;transform:scale(1.0132,1)">RUBÉN</div>
<div class="t nm" id="n3b" style="left:302.2px;top:473.0px;;letter-spacing:0.152px;transform:scale(1.0189,1)">GUAJARDO</div>
<div class="t nm" id="n4a" style="left:416.7px;top:460.9px;;letter-spacing:0.349px;transform:scale(1.0481,1)">DAVID</div>
<div class="t nm" id="n4b" style="left:412.9px;top:473.0px;;letter-spacing:-0.022px;transform:scale(0.9974,1)">AZUARA</div>
<div class="t nm" id="n5a" style="left:520px;top:460.9px;;letter-spacing:0.092px;transform:scale(1.0098,1)">SARA</div>
<div class="t nm" id="n5b" style="left:516.2px;top:473.0px;;letter-spacing:0.139px;transform:scale(1.0154,1)">ROCHA</div>
<div class="t nm" id="n6a" style="left:603.8px;top:460.9px;;letter-spacing:0.109px;transform:scale(1.0142,1)">ALEJANDRO</div>
<div class="t nm" id="n6b" style="left:624.4px;top:473.0px;;letter-spacing:-0.403px;transform:scale(0.9558,1)">LEAL</div>
<div class="t nm" id="n7a" style="left:712.7px;top:460.9px;;letter-spacing:0.114px;transform:scale(1.0137,1)">HÉCTOR</div>
<div class="t nm" id="n7b" style="left:699.8px;top:473.0px;;letter-spacing:0.178px;transform:scale(1.0249,1)">MENDIZÁBAL</div>
<div class="t foot" id="f1" style="left:99.2px;top:504.6px;;letter-spacing:0.089px;transform:scale(1.0226,1)">Encuesta realizada: 600 levantamientos, vía telefónica, de manera automática y aleatoria, en el municipio de SAN LUIS POTOSÍ. Fecha de levantamiento 13 de enero de 2024</div>
<div class="t" id="url" style="left:409.5px;top:517.0px;font-weight:bold;font-size:8.3px;color:#ffe9e9;letter-spacing:0.329px;transform:scale(1.0727,1)">www.rubrum.info</div>
</body>
</html>
